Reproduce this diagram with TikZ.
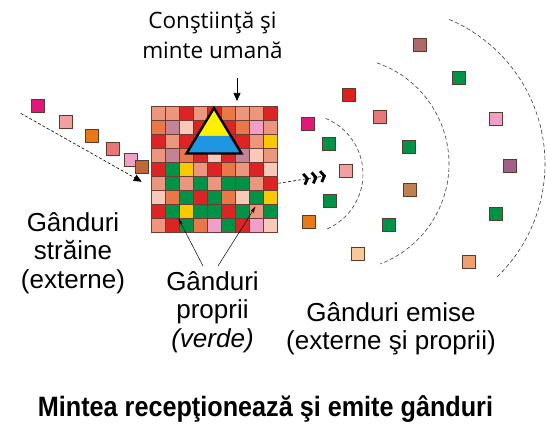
\documentclass[tikz,border=0pt]{standalone}
\usepackage{fontspec}
\setmainfont{Liberation Sans}
\newfontfamily\headfont{Open Sans}
\newfontfamily\captionfont{Liberation Sans}[FakeStretch=0.9]
\usetikzlibrary{arrows.meta}

\definecolor{cellS}{RGB}{236,150,125}
\definecolor{cellR}{RGB}{220,36,36}
\definecolor{cellO}{RGB}{232,120,72}
\definecolor{cellM}{RGB}{192,132,150}
\definecolor{cellL}{RGB}{248,200,185}
\definecolor{cellP}{RGB}{240,160,200}
\definecolor{cellY}{RGB}{248,200,0}
\definecolor{cellG}{RGB}{0,146,70}
\definecolor{gridline}{RGB}{110,60,50}
\definecolor{sqedge}{RGB}{90,60,45}
\definecolor{wavegray}{RGB}{60,60,60}
\definecolor{magenta}{RGB}{224,24,122}
\definecolor{rose}{RGB}{240,160,160}
\definecolor{tangerine}{RGB}{232,120,24}
\definecolor{coral}{RGB}{232,120,120}
\definecolor{pinky}{RGB}{240,160,200}
\definecolor{brownish}{RGB}{192,104,56}
\definecolor{wine}{RGB}{176,104,104}
\definecolor{leaf}{RGB}{0,146,70}
\definecolor{scarlet}{RGB}{224,32,32}
\definecolor{plum}{RGB}{160,96,136}
\definecolor{tan}{RGB}{192,128,80}
\definecolor{peach}{RGB}{248,200,152}
\definecolor{apricot}{RGB}{240,160,112}
\definecolor{topyellow}{RGB}{255,240,0}
\definecolor{topblue}{RGB}{30,150,225}

\tikzset{
  thought/.style={draw=sqedge,line width=0.9pt,minimum size=13pt,inner sep=0pt},
  wave/.style={draw=wavegray,line width=0.6pt,dash pattern=on 4pt off 2.5pt},
  txt/.style={align=center,inner sep=0pt,font=\fontsize{26}{28.5}\selectfont},
  chev/.tip={Straight Barb[length=3.5pt,width=11pt,line width=2.8pt,sep=2pt]}
}

\begin{document}
\begin{tikzpicture}[x=1pt,y=-1pt]%[scale=1]
\useasboundingbox (0,0) rectangle (547,430);

% the mind: 9x9 cells
\foreach \row [count=\j from 0] in {{S,S,R,S,R,O,S,S,R},{O,M,L,R,R,R,O,P,S},{R,S,R,R,S,R,R,S,Y},{S,M,O,R,L,R,M,L,S},{R,G,Y,S,R,O,S,R,L},{S,G,S,G,S,G,G,S,R},{L,O,G,R,G,O,L,G,Y},{R,G,Y,G,G,R,G,S,G},{S,R,G,O,P,G,R,P,L}}
  \foreach \c [count=\i from 0] in \row
    \draw[draw=gridline,line width=0.6pt,fill=cell\c] (151+14*\i,106+14*\j) rectangle ++(14,14);

\fill[topyellow] (214,108)--(197.1,136)--(230.9,136)--cycle;
\fill[topblue] (197.1,136)--(230.9,136)--(241.5,153.5)--(186.5,153.5)--cycle;
\draw[line width=2.4pt,line join=miter] (214,108)--(241.5,153.5)--(186.5,153.5)--cycle;

% incoming thoughts
\node[thought,fill=magenta] (in1) at (37.5,106) {};
\node[thought,fill=rose] (in2) at (66,122) {};
\node[thought,fill=tangerine] (in3) at (92,136) {};
\node[thought,fill=coral] (in4) at (113,149) {};
\node[thought,fill=pinky] (in5) at (131,160) {};
\node[thought,fill=brownish] (in6) at (142,167) {};

% emitted thoughts
\node[thought,fill=wine] (out1) at (419.7,44.5) {};
\node[thought,fill=leaf] (out2) at (459.3,77.7) {};
\node[thought,fill=scarlet] (out3) at (348.7,95.3) {};
\node[thought,fill=coral] (out4) at (380.3,117) {};
\node[thought,fill=pinky] (out5) at (496.3,119.3) {};
\node[thought,fill=magenta] (out6) at (307.7,124.3) {};
\node[thought,fill=leaf] (out7) at (328.7,144.3) {};
\node[thought,fill=leaf] (out8) at (409.3,147) {};
\node[thought,fill=plum] (out9) at (509.7,166.3) {};
\node[thought,fill=rose] (out10) at (346.3,171.3) {};
\node[thought,fill=tan] (out11) at (410.3,189.7) {};
\node[thought,fill=leaf] (out12) at (330.3,201.2) {};
\node[thought,fill=leaf] (out13) at (496.3,213.7) {};
\node[thought,fill=tangerine] (out14) at (308.7,222) {};
\node[thought,fill=leaf] (out15) at (389.3,225.3) {};
\node[thought,fill=peach] (out16) at (357.7,253.7) {};
\node[thought,fill=apricot] (out17) at (469.3,262.3) {};

% waves
\draw[wave] (303,174) ++(-68:60) arc (-68:67:60);
\draw[wave] (342,164) ++(-71:107) arc (-71:69:107);
\draw[wave] (388,164) ++(-67:157) arc (-67:46:157);

% labels
\node[font=\headfont\fontsize{22.5}{30}\selectfont,align=center,inner sep=0pt,anchor=north] (mind) at (212.5,12) {Conştiinţă şi\\minte umană};
\node[txt,anchor=north] (foreign) at (73,212) {Gânduri\\străine\\(externe)};
\node[txt,anchor=north] (own) at (212.5,271) {Gânduri\\proprii\\\textit{(verde)}};
\node[txt,anchor=north] (emitted) at (391,302) {Gânduri emise\\(externe şi proprii)};
\node[font=\captionfont\bfseries\fontsize{28}{30}\selectfont,inner sep=0pt,anchor=base] (caption) at (265.5,417) {Mintea recepţionează şi emite gânduri};

% connectors
\coordinate (mindTail) at (237,78);
\coordinate (mindTip) at (237,101);
\coordinate (inTail) at (20.7,113.3);
\coordinate (inTip) at (141.7,181.7);
\coordinate (outTail) at (278.3,183.3);
\coordinate (outTip) at (328,175.5);
\coordinate (ownA) at (203,266);
\coordinate (ownAtip) at (178.3,218.3);
\coordinate (ownB) at (218,266);
\coordinate (ownBtip) at (255.5,206.5);

\draw[line width=0.6pt,-{Triangle[length=8pt,width=7pt]}] (mindTail) -- (mindTip);
\draw[line width=0.6pt,dash pattern=on 3pt off 2pt,-{Triangle[length=8pt,width=7pt]}] (inTail) -- (inTip);
\draw[line width=0.6pt,dash pattern=on 3pt off 2pt,-{chev[]chev[]chev[]}] (outTail) -- (outTip);
\draw[line width=0.5pt,-{Stealth[length=7pt,width=3.5pt]}] (ownA) -- (ownAtip);
\draw[line width=0.5pt,-{Stealth[length=7pt,width=3.5pt]}] (ownB) -- (ownBtip);
\end{tikzpicture}
\end{document}
